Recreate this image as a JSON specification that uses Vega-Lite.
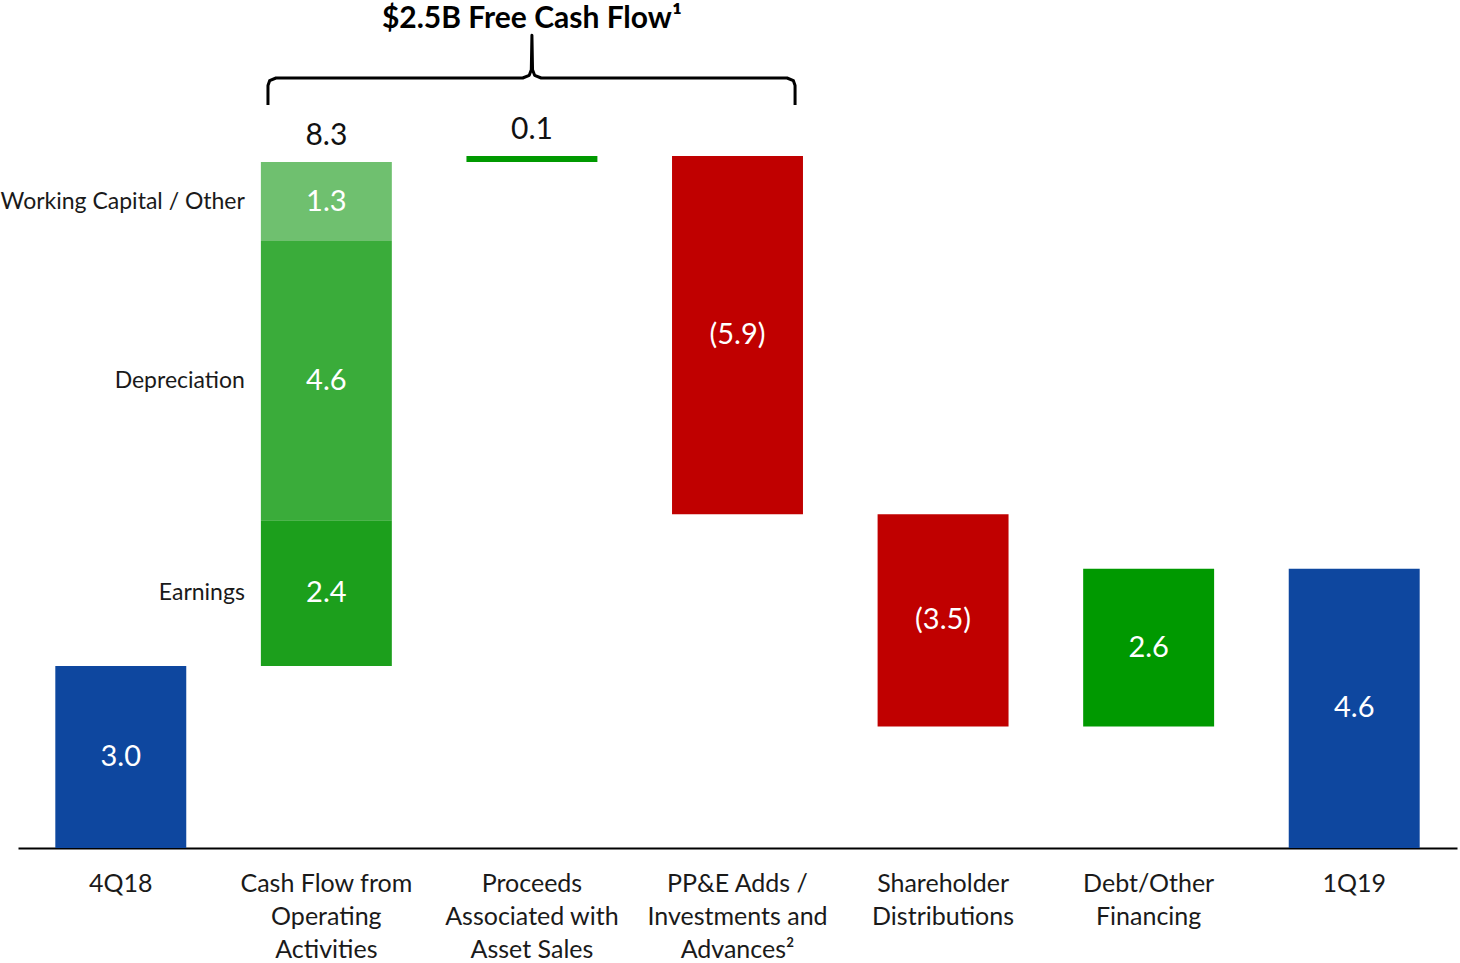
{
  "$schema": "https://vega.github.io/schema/vega-lite/v6.json",
  "autosize": {"type": "none"},
  "width": 1439,
  "height": 848,
  "padding": {"left": 18, "top": 0, "right": 3, "bottom": 115},
  "background": "white",
  "config": {"view": {"stroke": null}, "font": "Lato"},
  "datasets": {
    "steps": [
      {"step": "4Q18", "part": "Total", "start": 0, "end": 3.0, "label": "3.0"},
      {"step": "Cash Flow from Operating Activities", "part": "Earnings", "start": 3.0, "end": 5.4, "label": "2.4"},
      {"step": "Cash Flow from Operating Activities", "part": "Depreciation", "start": 5.4, "end": 10.0, "label": "4.6"},
      {"step": "Cash Flow from Operating Activities", "part": "Working Capital / Other", "start": 10.0, "end": 11.3, "label": "1.3"},
      {"step": "Proceeds Associated with Asset Sales", "part": "Increase", "start": 11.3, "end": 11.4, "label": ""},
      {"step": "PP&E Adds / Investments and Advances", "part": "Decrease", "start": 11.4, "end": 5.5, "label": "(5.9)"},
      {"step": "Shareholder Distributions", "part": "Decrease", "start": 5.5, "end": 2.0, "label": "(3.5)"},
      {"step": "Debt/Other Financing", "part": "Increase", "start": 2.0, "end": 4.6, "label": "2.6"},
      {"step": "1Q19", "part": "Total", "start": 0, "end": 4.6, "label": "4.6"}
    ],
    "tops": [
      {"step": "Cash Flow from Operating Activities", "top": 11.3, "label": "8.3"},
      {"step": "Proceeds Associated with Asset Sales", "top": 11.4, "label": "0.1"}
    ],
    "brace": [
      {"i": 1, "bx": 1.216, "by": 12.24},
      {"i": 2, "bx": 1.216, "by": 12.56},
      {"i": 3, "bx": 1.224, "by": 12.64},
      {"i": 4, "bx": 1.255, "by": 12.685},
      {"i": 5, "bx": 2.455, "by": 12.685},
      {"i": 6, "bx": 2.487, "by": 12.73},
      {"i": 7, "bx": 2.497, "by": 12.82},
      {"i": 8, "bx": 2.5, "by": 13.39},
      {"i": 9, "bx": 2.503, "by": 12.82},
      {"i": 10, "bx": 2.513, "by": 12.73},
      {"i": 11, "bx": 2.545, "by": 12.685},
      {"i": 12, "bx": 3.741, "by": 12.685},
      {"i": 13, "bx": 3.772, "by": 12.64},
      {"i": 14, "bx": 3.78, "by": 12.56},
      {"i": 15, "bx": 3.78, "by": 12.24}
    ],
    "title": [
      {"step": "Proceeds Associated with Asset Sales", "ty": 13.66, "text": "$2.5B Free Cash Flow¹"}
    ]
  },
  "resolve": {"scale": {"x": "independent"}},
  "layer": [
    {
      "encoding": {
        "x": {
          "field": "step",
          "type": "nominal",
          "sort": null,
          "scale": {
            "domain": ["4Q18", "Cash Flow from Operating Activities", "Proceeds Associated with Asset Sales", "PP&E Adds / Investments and Advances", "Shareholder Distributions", "Debt/Other Financing", "1Q19"],
            "paddingInner": 0.363,
            "paddingOuter": 0.1815
          },
          "axis": {
            "title": null,
            "ticks": false,
            "domainColor": "black",
            "domainWidth": 2,
            "labelAngle": 0,
            "labelFont": "Lato",
            "labelFontSize": 25,
            "labelColor": "#1a1a1a",
            "labelPadding": 23,
            "labelLimit": 0,
            "labelLineHeight": 33,
            "labelBaseline": "top",
            "labelExpr": "datum.value == 'Cash Flow from Operating Activities' ? ['Cash Flow from', 'Operating', 'Activities'] : datum.value == 'Proceeds Associated with Asset Sales' ? ['Proceeds', 'Associated with', 'Asset Sales'] : datum.value == 'PP&E Adds / Investments and Advances' ? ['PP&E Adds /', 'Investments and', 'Advances²'] : datum.value == 'Shareholder Distributions' ? ['Shareholder', 'Distributions'] : datum.value == 'Debt/Other Financing' ? ['Debt/Other', 'Financing'] : datum.label"
          }
        }
      },
      "layer": [
        {
          "data": {"name": "steps"},
          "mark": {"type": "bar"},
          "encoding": {
            "y": {"field": "start", "type": "quantitative", "scale": {"domain": [0, 13.97], "nice": false, "zero": true}, "axis": null},
            "y2": {"field": "end"},
            "color": {
              "field": "part",
              "type": "nominal",
              "scale": {
                "domain": ["Total", "Earnings", "Depreciation", "Working Capital / Other", "Increase", "Decrease"],
                "range": ["#0E479F", "#1c9f1c", "#3aac3a", "#6fc06f", "#009900", "#C00000"]
              },
              "legend": null
            }
          }
        },
        {
          "data": {"name": "steps"},
          "transform": [{"calculate": "(datum.start + datum.end) / 2", "as": "mid"}],
          "mark": {"type": "text", "color": "white", "fontSize": 29, "font": "Lato", "baseline": "middle"},
          "encoding": {
            "y": {"field": "mid", "type": "quantitative"},
            "text": {"field": "label"}
          }
        },
        {
          "data": {"name": "steps"},
          "transform": [
            {"filter": "datum.step == 'Cash Flow from Operating Activities'"},
            {"calculate": "(datum.start + datum.end) / 2", "as": "mid"}
          ],
          "mark": {"type": "text", "color": "#1a1a1a", "fontSize": 23, "font": "Lato", "baseline": "middle", "align": "right", "dx": -16},
          "encoding": {
            "x": {"field": "step", "type": "nominal", "bandPosition": 0},
            "y": {"field": "mid", "type": "quantitative"},
            "text": {"field": "part"}
          }
        },
        {
          "data": {"name": "tops"},
          "mark": {"type": "text", "color": "#111111", "fontSize": 30, "font": "Lato", "baseline": "middle", "dy": -26},
          "encoding": {
            "y": {"field": "top", "type": "quantitative"},
            "text": {"field": "label"}
          }
        },
        {
          "data": {"name": "title"},
          "mark": {"type": "text", "color": "black", "fontSize": 30, "font": "Lato", "fontWeight": "bold", "baseline": "middle"},
          "encoding": {
            "y": {"field": "ty", "type": "quantitative"},
            "text": {"field": "text"}
          }
        }
      ]
    },
    {
      "data": {"name": "brace"},
      "mark": {"type": "line", "color": "black", "strokeWidth": 3, "strokeJoin": "round", "strokeCap": "butt"},
      "encoding": {
        "x": {"field": "bx", "type": "quantitative", "scale": {"domain": [0, 7], "nice": false, "zero": false}, "axis": null},
        "y": {"field": "by", "type": "quantitative"},
        "order": {"field": "i"}
      }
    }
  ]
}
